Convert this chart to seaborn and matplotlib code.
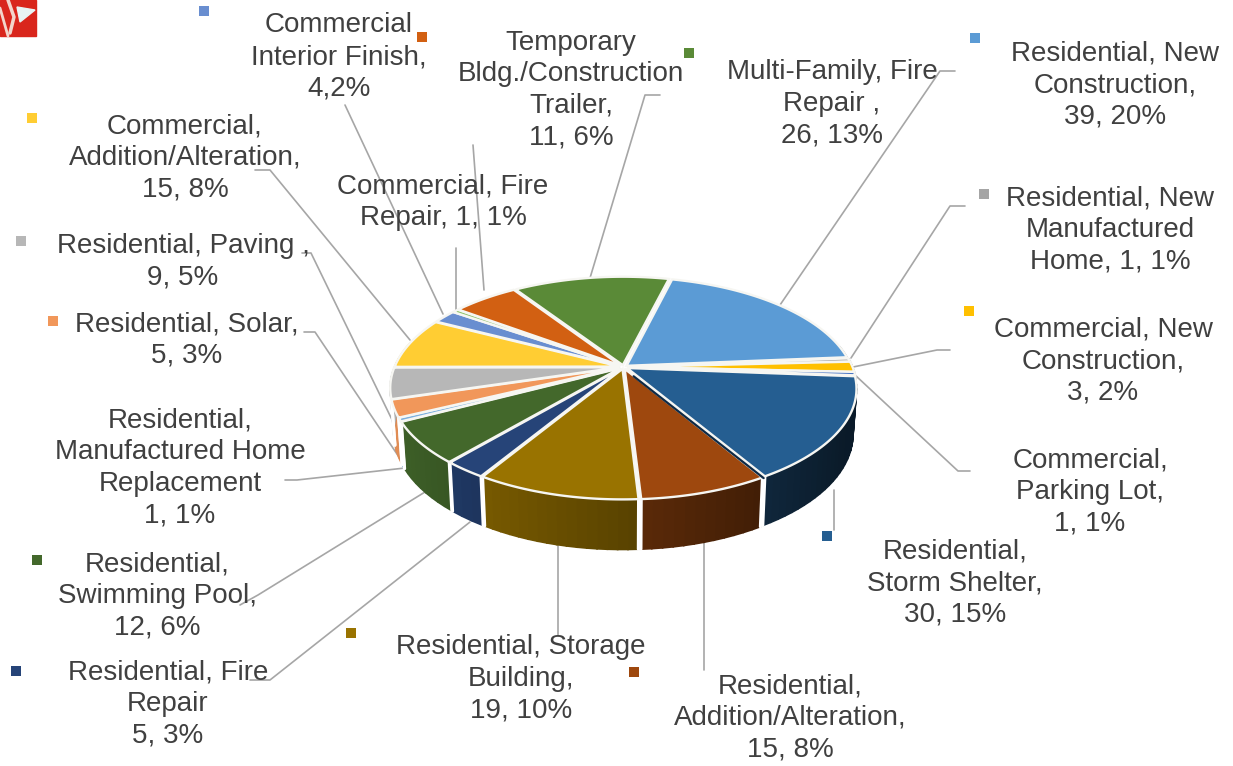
"""3D style pie of permit counts by category."""
import numpy as np
import matplotlib
matplotlib.use('Agg')
import matplotlib.pyplot as plt
import seaborn as sns

# slices in drawing order, clockwise
categories = ['Residential, New Construction', 'Residential, New Manufactured Home',
              'Commercial, New Construction', 'Commercial, Parking Lot',
              'Residential, Storm Shelter', 'Residential, Addition/Alteration',
              'Residential, Storage Building', 'Residential, Fire Repair',
              'Residential, Swimming Pool', 'Residential, Manufactured Home Replacement',
              'Residential, Solar', 'Residential, Paving',
              'Commercial, Addition/Alteration', 'Commercial Interior Finish',
              'Commercial, Fire Repair', 'Temporary Bldg./Construction Trailer',
              'Multi-Family, Fire Repair']
values = [39, 1, 3, 1, 30, 15, 19, 5, 12, 1, 5, 9, 15, 4, 1, 11, 26]
colors = ['#5B9BD5', '#A5A5A5', '#FFC000', '#4472C4', '#255E91', '#9E480E', '#997300', '#264478',
          '#43682B', '#7CAFDD', '#F1975A', '#B7B7B7', '#FFCD33', '#698ED0', '#8CC168', '#D26012',
          '#5A8A37']
labels = ['Residential, New\nConstruction,\n39, 20%', 'Residential, New\nManufactured\nHome, 1, 1%',
          'Commercial, New\nConstruction,\n3, 2%', 'Commercial,\nParking Lot,\n1, 1%',
          'Residential,\nStorm Shelter,\n30, 15%', 'Residential,\nAddition/Alteration,\n15, 8%',
          'Residential, Storage\nBuilding,\n19, 10%', 'Residential, Fire\nRepair\n5, 3%',
          'Residential,\nSwimming Pool,\n12, 6%', 'Residential,\nManufactured Home\nReplacement\n1, 1%',
          'Residential, Solar,\n5, 3%', 'Residential, Paving ,\n9, 5%',
          'Commercial,\nAddition/Alteration,\n15, 8%', 'Commercial\nInterior Finish,\n4,2%',
          'Commercial, Fire\nRepair, 1, 1%', 'Temporary\nBldg./Construction\nTrailer,\n11, 6%',
          'Multi-Family, Fire\nRepair ,\n26, 13%']

# layout, in picture pixels
label_x = [1115, 1110, 1103, 1090, 955, 790, 521, 168, 157, 180, 187, 183, 185, 339, 443, 571, 832]
label_y = [85, 230, 361, 492, 583, 718, 679, 704, 596, 468, 340, 262, 158, 57, 202, 90, 104]
marker_cats = [0, 1, 2, 4, 5, 6, 7, 8, 10, 11, 12, 13, 15, 16]
marker_x = [975, 984, 969, 827, 634, 351, 16, 37, 53, 21, 32, 204, 422, 689]
marker_y = [38, 194, 311, 536, 672, 633, 671, 560, 321, 241, 118, 11, 37, 53]
leaders = [[(955, 71), (940, 71), (780, 305)],
           [(965, 206), (950, 206), (851, 358)],
           [(950, 350), (937, 350), (853, 367)],
           [(970, 471), (958, 471), (855, 375)],
           [(834, 530), (834, 490)],
           [(704, 670), (704, 540)],
           [(558, 635), (558, 545)],
           [(250, 680), (270, 680), (470, 522)],
           [(240, 605), (258, 595), (425, 492)],
           [(285, 480), (297, 480), (405, 468)],
           [(304, 332), (315, 332), (401, 460)],
           [(302, 253), (311, 253), (397, 430)],
           [(255, 170), (270, 170), (410, 340)],
           [(345, 105), (443, 314)],
           [(456, 248), (456, 310)],
           [(473, 145), (484, 290)],
           [(660, 95), (645, 95), (590, 278)]]

CX, CY = 623.5, 367
SCALE_X, SCALE_Y, PERSP = 225, 105.5, 0.186
START = 14
EXPLODE = 0.018
WALL_SHRINK = 0.985


def project(u, v):
    w = 1 + PERSP * v
    return CX + SCALE_X * u / w, CY - SCALE_Y * v / w


def rim(angles, off):
    u = np.sin(angles) + off[0]
    v = np.cos(angles) + off[1]
    return u, v


def shade(color, factor):
    return tuple(np.array(matplotlib.colors.to_rgb(color)) * factor)


def depth(v):
    return 44 - 6 * v


sns.set_theme(style='white')
plt.rcParams['font.family'] = ['Liberation Sans', 'DejaVu Sans']

fig = plt.figure(figsize=(12.33, 7.66), dpi=100)
ax = fig.add_axes([0, 0, 1, 1])
ax.set_xlim(0, 1233)
ax.set_ylim(766, 0)
ax.axis('off')

# corner of the logo
ax.fill([0, 36, 36, 0], [0, 0, 36, 36], color='#D9261C', zorder=1)
ax.fill([17, 35, 20], [7, 10, 22], color='#E8F4F4', zorder=2)
ax.plot([8, 14, 10], [0, 17, 33], color='#F3D5CB', lw=2.5, zorder=2)
ax.plot([0, 8], [8, 36], color='#F3D5CB', lw=2, zorder=2)

edges = np.radians(START + np.cumsum([0] + values) / sum(values) * 360)
mids = (edges[:-1] + edges[1:]) / 2
offs = [(EXPLODE * np.sin(m), EXPLODE * np.cos(m)) for m in mids]

# leader lines sit under the pie
for pts in leaders:
    ax.plot([p[0] for p in pts], [p[1] for p in pts], color='#A6A6A6', lw=1.2, zorder=2)

# side walls
for i, color in enumerate(colors):
    t = np.linspace(edges[i], edges[i + 1], max(4, int(np.degrees(edges[i + 1] - edges[i]) / 2)))
    u, v = rim(t, offs[i])
    x, y = project(u, v)
    for j in range(len(t) - 1):
        if v[j] > 0.2 and v[j + 1] > 0.2:
            continue
        lx = CX + (x[j:j + 2] - CX) * WALL_SHRINK
        ly = y[j:j + 2] + depth(v[j:j + 2])
        f = np.clip(0.6 - 0.35 * u[j], 0.28, 0.95)
        ax.fill([x[j], x[j + 1], lx[1], lx[0]], [y[j], y[j + 1], ly[1], ly[0]],
                color=shade(color, f), lw=1.2, zorder=3)
    # white seam where two walls meet
    for k in (0, -1):
        if v[k] < -0.2:
            ax.plot([x[k], CX + (x[k] - CX) * WALL_SHRINK], [y[k], y[k] + depth(v[k])],
                    color='white', lw=2.2, zorder=4)

# top faces
for i, color in enumerate(colors):
    t = np.linspace(edges[i], edges[i + 1], 60)
    u, v = rim(t, offs[i])
    x, y = project(u, v)
    a_x, a_y = project(offs[i][0], offs[i][1])
    ax.fill(np.r_[a_x, x], np.r_[a_y, y], facecolor=color, edgecolor='#F6F6F2', lw=1.7, zorder=5)

# dark cut face along the storm shelter slice
a_x, a_y = project(offs[4][0] - 0.006, offs[4][1] - 0.012)
e_u, e_v = rim(edges[5], offs[4])
e_x, e_y = project(e_u - 0.006, e_v - 0.012)
ax.plot([a_x + 8, e_x], [a_y + 7, e_y], color='#0F2A45', lw=1.6, zorder=6)

sns.scatterplot(x=marker_x, y=marker_y, hue=[categories[i] for i in marker_cats],
                palette={categories[i]: colors[i] for i in marker_cats}, marker='s', s=60,
                linewidth=0, legend=False, ax=ax, zorder=7)

for txt, x, y in zip(labels, label_x, label_y):
    ax.text(x, y, txt, ha='center', va='center', fontsize=20, color='#404040',
            linespacing=1.28, zorder=8)

fig.savefig('out.png', dpi=100)
plt.close(fig)
